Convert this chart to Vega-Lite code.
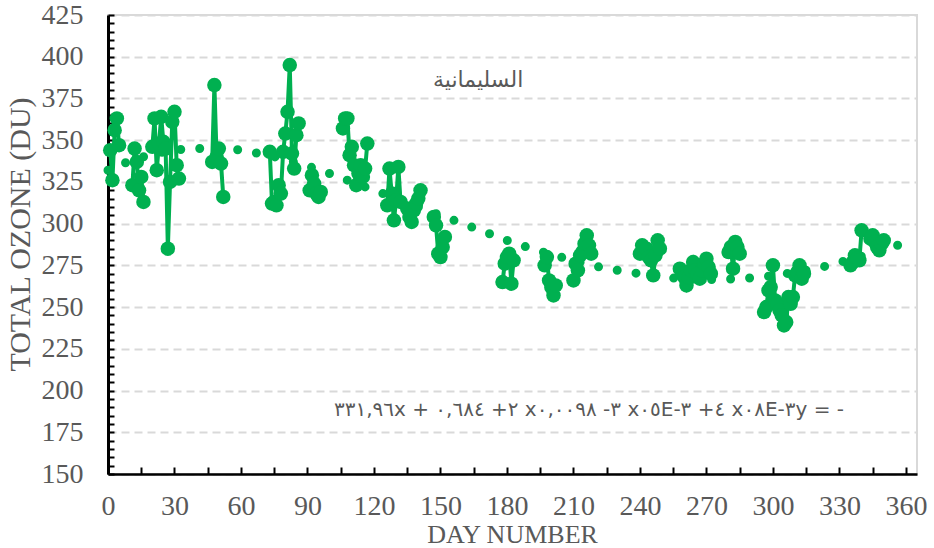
{
  "$schema": "https://vega.github.io/schema/vega-lite/v6.json",
  "width": 809,
  "height": 459,
  "autosize": {"type": "none"},
  "padding": {"left": 108, "top": 15, "right": 17, "bottom": 74},
  "background": "white",
  "config": {"view": {"stroke": "#d9d9d9", "strokeWidth": 2}, "font": "Liberation Serif"},
  "datasets": {
    "obs": [
      {"day": 1, "o3": 344}, {"day": 2, "o3": 326}, {"day": 3, "o3": 356}, {"day": 4, "o3": 363}, {"day": 5, "o3": 347}, {"day": 6, "o3": null},
      {"day": 11, "o3": 323}, {"day": 12, "o3": 345}, {"day": 13, "o3": 337}, {"day": 14, "o3": 320}, {"day": 15, "o3": 328}, {"day": 16, "o3": 313}, {"day": 17, "o3": null},
      {"day": 20, "o3": 346}, {"day": 21, "o3": 363}, {"day": 22, "o3": 332}, {"day": 23, "o3": 348}, {"day": 24, "o3": 364}, {"day": 25, "o3": 349}, {"day": 26, "o3": 345}, {"day": 27, "o3": 285}, {"day": 28, "o3": 325}, {"day": 29, "o3": 361}, {"day": 30, "o3": 367}, {"day": 31, "o3": 335}, {"day": 32, "o3": 327}, {"day": 33, "o3": null},
      {"day": 47, "o3": 337}, {"day": 48, "o3": 383}, {"day": 49, "o3": 340}, {"day": 50, "o3": 345}, {"day": 51, "o3": 336}, {"day": 52, "o3": 316}, {"day": 53, "o3": null},
      {"day": 73, "o3": 343}, {"day": 74, "o3": 312}, {"day": 75, "o3": 313}, {"day": 76, "o3": 311}, {"day": 77, "o3": 323}, {"day": 78, "o3": 318}, {"day": 79, "o3": 343}, {"day": 80, "o3": 354}, {"day": 81, "o3": 367}, {"day": 82, "o3": 395}, {"day": 83, "o3": 342}, {"day": 84, "o3": 333}, {"day": 85, "o3": 353}, {"day": 86, "o3": 360}, {"day": 87, "o3": null},
      {"day": 91, "o3": 320}, {"day": 92, "o3": 329}, {"day": 93, "o3": 324}, {"day": 94, "o3": 318}, {"day": 95, "o3": 316}, {"day": 96, "o3": 319}, {"day": 97, "o3": null},
      {"day": 106, "o3": 357}, {"day": 107, "o3": 363}, {"day": 108, "o3": 363}, {"day": 109, "o3": 341}, {"day": 110, "o3": 346}, {"day": 111, "o3": 335}, {"day": 112, "o3": 323}, {"day": 113, "o3": 330}, {"day": 114, "o3": 335}, {"day": 115, "o3": 328}, {"day": 116, "o3": 333}, {"day": 117, "o3": 348}, {"day": 118, "o3": null},
      {"day": 126, "o3": 311}, {"day": 127, "o3": 333}, {"day": 128, "o3": 318}, {"day": 129, "o3": 302}, {"day": 130, "o3": 314}, {"day": 131, "o3": 334}, {"day": 132, "o3": 313}, {"day": 133, "o3": null},
      {"day": 135, "o3": 309}, {"day": 136, "o3": 304}, {"day": 137, "o3": 301}, {"day": 138, "o3": 308}, {"day": 139, "o3": 312}, {"day": 140, "o3": 315}, {"day": 141, "o3": 320}, {"day": 142, "o3": null},
      {"day": 147, "o3": 304}, {"day": 148, "o3": 299}, {"day": 149, "o3": 282}, {"day": 150, "o3": 280}, {"day": 151, "o3": 286}, {"day": 152, "o3": 292}, {"day": 153, "o3": null},
      {"day": 178, "o3": 265}, {"day": 179, "o3": 276}, {"day": 180, "o3": 280}, {"day": 181, "o3": 282}, {"day": 182, "o3": 264}, {"day": 183, "o3": 278}, {"day": 184, "o3": null},
      {"day": 197, "o3": 275}, {"day": 198, "o3": 280}, {"day": 199, "o3": 266}, {"day": 200, "o3": 262}, {"day": 201, "o3": 257}, {"day": 202, "o3": 263}, {"day": 203, "o3": null},
      {"day": 210, "o3": 266}, {"day": 211, "o3": 276}, {"day": 212, "o3": 272}, {"day": 213, "o3": 281}, {"day": 214, "o3": 283}, {"day": 215, "o3": 288}, {"day": 216, "o3": 293}, {"day": 217, "o3": 287}, {"day": 218, "o3": 282}, {"day": 219, "o3": null},
      {"day": 240, "o3": 282}, {"day": 241, "o3": 287}, {"day": 242, "o3": 283}, {"day": 243, "o3": 285}, {"day": 244, "o3": 280}, {"day": 245, "o3": 278}, {"day": 246, "o3": 269}, {"day": 247, "o3": 281}, {"day": 248, "o3": 290}, {"day": 249, "o3": 285}, {"day": 250, "o3": null},
      {"day": 258, "o3": 273}, {"day": 259, "o3": 270}, {"day": 260, "o3": 268}, {"day": 261, "o3": 263}, {"day": 262, "o3": 268}, {"day": 263, "o3": 272}, {"day": 264, "o3": 277}, {"day": 265, "o3": 272}, {"day": 266, "o3": 270}, {"day": 267, "o3": 267}, {"day": 268, "o3": 272}, {"day": 269, "o3": 276}, {"day": 270, "o3": 279}, {"day": 271, "o3": 274}, {"day": 272, "o3": 270}, {"day": 273, "o3": null},
      {"day": 280, "o3": 283}, {"day": 281, "o3": 286}, {"day": 282, "o3": 273}, {"day": 283, "o3": 289}, {"day": 284, "o3": 286}, {"day": 285, "o3": 282}, {"day": 286, "o3": null},
      {"day": 296, "o3": 247}, {"day": 297, "o3": 250}, {"day": 298, "o3": 260}, {"day": 299, "o3": 262}, {"day": 300, "o3": 275}, {"day": 301, "o3": 254}, {"day": 302, "o3": 252}, {"day": 303, "o3": 248}, {"day": 304, "o3": 245}, {"day": 305, "o3": 239}, {"day": 306, "o3": 241}, {"day": 307, "o3": 256}, {"day": 308, "o3": 252}, {"day": 309, "o3": 256}, {"day": 310, "o3": 269}, {"day": 311, "o3": 271}, {"day": 312, "o3": 275}, {"day": 313, "o3": 267}, {"day": 314, "o3": 270}, {"day": 315, "o3": null},
      {"day": 335, "o3": 275}, {"day": 336, "o3": 277}, {"day": 337, "o3": 281}, {"day": 338, "o3": 279}, {"day": 339, "o3": 278}, {"day": 340, "o3": 296}, {"day": 341, "o3": null},
      {"day": 344, "o3": 291}, {"day": 345, "o3": 293}, {"day": 346, "o3": 289}, {"day": 347, "o3": 286}, {"day": 348, "o3": 284}, {"day": 349, "o3": 288}, {"day": 350, "o3": 290}
    ],
    "trend": [
      {"day": 0, "o3": 332}, {"day": 10, "o3": 337.5}, {"day": 20, "o3": 341.5}, {"day": 30, "o3": 344}, {"day": 40, "o3": 345}, {"day": 50, "o3": 345}, {"day": 60, "o3": 344}, {"day": 70, "o3": 341.5}, {"day": 80, "o3": 338.5}, {"day": 90, "o3": 334.5}, {"day": 100, "o3": 330}, {"day": 110, "o3": 325}, {"day": 120, "o3": 320}, {"day": 130, "o3": 315}, {"day": 140, "o3": 310}, {"day": 150, "o3": 305}, {"day": 160, "o3": 300}, {"day": 170, "o3": 295}, {"day": 180, "o3": 290}, {"day": 190, "o3": 285.5}, {"day": 200, "o3": 281.5}, {"day": 210, "o3": 278}, {"day": 220, "o3": 274.5}, {"day": 230, "o3": 272}, {"day": 240, "o3": 270}, {"day": 250, "o3": 268}, {"day": 260, "o3": 267}, {"day": 270, "o3": 266.5}, {"day": 280, "o3": 266.8}, {"day": 290, "o3": 267.5}, {"day": 300, "o3": 268.8}, {"day": 310, "o3": 271}, {"day": 320, "o3": 273.3}, {"day": 330, "o3": 276.8}, {"day": 340, "o3": 280.5}, {"day": 350, "o3": 284.5}, {"day": 362, "o3": 289.5}
    ],
    "labels": [
      {"label": "السليمانية"}
    ],
    "equation": [
      {"label": "\u202D٣٣١,٩٦x + ٠,٦٨٤ +٢ x٠,٠٠٩٨ -٣ x٠٥E-٣ +٤ x٠٨E-٣y = -\u202C"}
    ]
  },
  "layer": [
    {
      "data": {"name": "trend"},
      "mark": {"type": "line", "color": "#00B050", "strokeWidth": 9, "strokeDash": [0, 19], "strokeCap": "round", "interpolate": "monotone"},
      "encoding": {
        "x": {
          "field": "day", "type": "quantitative",
          "scale": {"domain": [0, 365], "nice": false, "zero": false},
          "axis": {
            "title": "DAY NUMBER",
            "values": [0, 15, 30, 45, 60, 75, 90, 105, 120, 135, 150, 165, 180, 195, 210, 225, 240, 255, 270, 285, 300, 315, 330, 345, 360],
            "tickCount": 1000,
            "format": "d",
            "labelExpr": "datum.value % 30 === 0 ? datum.label : ''",
            "grid": false,
            "domainColor": "black", "domainWidth": 2.5,
            "tickColor": "black", "tickWidth": 2, "tickSize": -7,
            "labelPadding": 25,
            "labelFont": "Liberation Serif", "labelFontSize": 28, "labelColor": "#595959",
            "labelFlush": false, "labelOverlap": false,
            "titleFont": "Liberation Serif", "titleFontSize": 26, "titleFontWeight": "normal", "titleColor": "#595959",
            "titleX": 404, "titleY": 60, "titleBaseline": "middle", "titleAlign": "center"
          }
        },
        "y": {
          "field": "o3", "type": "quantitative",
          "scale": {"domain": [150, 425], "nice": false, "zero": false},
          "axis": {
            "title": "TOTAL OZONE (DU)",
            "values": [150, 155, 160, 165, 170, 175, 180, 185, 190, 195, 200, 205, 210, 215, 220, 225, 230, 235, 240, 245, 250, 255, 260, 265, 270, 275, 280, 285, 290, 295, 300, 305, 310, 315, 320, 325, 330, 335, 340, 345, 350, 355, 360, 365, 370, 375, 380, 385, 390, 395, 400, 405, 410, 415, 420, 425],
            "tickCount": 1000,
            "format": "d",
            "labelExpr": "datum.value % 25 === 0 ? datum.label : ''",
            "grid": true, "gridColor": "#d9d9d9", "gridDash": [8, 5], "gridWidth": 2,
            "gridOpacity": {"condition": {"test": "datum.value % 25 === 0", "value": 1}, "value": 0},
            "domainColor": "black", "domainWidth": 3,
            "tickColor": "black", "tickWidth": 2, "tickSize": -6,
            "labelPadding": 31,
            "labelFont": "Liberation Serif", "labelFontSize": 28, "labelColor": "#595959",
            "labelFlush": false, "labelOverlap": false,
            "titleFont": "Liberation Serif", "titleFontSize": 30, "titleFontWeight": "normal", "titleColor": "#595959",
            "titleX": -88, "titleY": 219, "titleAngle": -90, "titleBaseline": "middle", "titleAlign": "center"
          }
        }
      }
    },
    {
      "data": {"name": "obs"},
      "mark": {"type": "line", "color": "#00B050", "strokeWidth": 4, "invalid": "break-paths-filter-domains"},
      "encoding": {
        "x": {"field": "day", "type": "quantitative"},
        "y": {"field": "o3", "type": "quantitative"}
      }
    },
    {
      "data": {"name": "obs"},
      "mark": {"type": "circle", "color": "#00B050", "size": 210, "opacity": 1},
      "encoding": {
        "x": {"field": "day", "type": "quantitative"},
        "y": {"field": "o3", "type": "quantitative"}
      }
    },
    {
      "data": {"name": "labels"},
      "mark": {"type": "text", "font": "DejaVu Sans", "fontSize": 22, "color": "#595959", "align": "center", "baseline": "middle"},
      "encoding": {"x": {"datum": 167}, "y": {"datum": 386}, "text": {"field": "label"}}
    },
    {
      "data": {"name": "equation"},
      "mark": {"type": "text", "font": "DejaVu Sans", "fontSize": 20, "color": "#595959", "align": "center", "baseline": "middle"},
      "encoding": {"x": {"datum": 217}, "y": {"datum": 188.3}, "text": {"field": "label"}}
    }
  ]
}
